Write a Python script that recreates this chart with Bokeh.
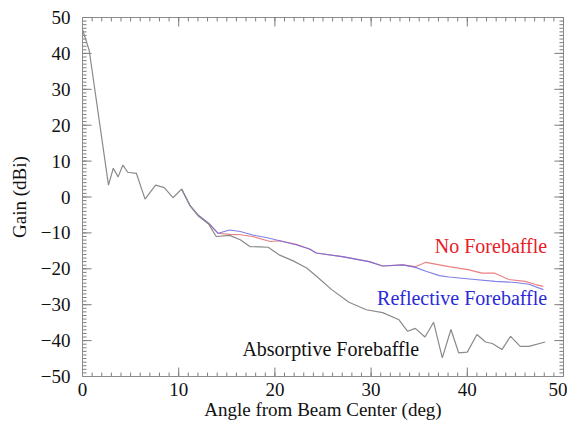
from bokeh.plotting import figure
from bokeh.models import Range1d, SingleIntervalTicker
from bokeh.embed import file_html
from bokeh.resources import INLINE
from bokeh.core.properties import value

# ---- data ----
abs_x = [0, 0.7, 2.7, 3.2, 3.7, 4.2, 4.7, 5.6, 6.5, 7.6, 8.5, 9.4, 10.3, 11.2, 12.0, 13.1, 13.9,
         15.3, 16.4, 17.4, 18.4, 19.3, 20.5, 21.9, 23.3, 24.3, 25.9, 27.7, 29.5, 31.2, 32.9, 33.8,
         34.6, 35.6, 36.5, 37.4, 38.3, 39.1, 40.0, 41.0, 41.9, 42.6, 43.6, 44.5, 45.5, 46.4, 48.1]
abs_y = [46.7, 40.8, 3.3, 8.0, 5.6, 8.9, 6.9, 6.6, -0.6, 3.3, 2.6, -0.2, 2.2, -2.5, -5.2, -7.5, -11.0,
         -10.7, -11.9, -13.8, -13.9, -14.0, -16.2, -17.8, -19.8, -22.0, -25.8, -29.3, -31.4, -32.2, -34.2, -37.4,
         -36.6, -39.0, -34.9, -44.8, -36.9, -43.4, -43.2, -38.3, -40.4, -40.8, -42.5, -38.8, -41.6, -41.6, -40.4]

nofb_x = [10.3, 11.2, 12.0, 13.1, 14.1, 15.3, 16.4, 17.7, 19.5, 20.5, 22.2, 23.6, 24.3, 27.0, 29.8,
          31.2, 33.3, 34.6, 35.7, 37.1, 38.1, 40.2, 41.5, 42.8, 44.3, 46.0, 47.1, 47.9]
nofb_y = [2.2, -2.5, -5.0, -7.3, -10.1, -10.4, -10.5, -11.0, -12.4, -12.2, -13.2, -14.5, -15.6, -16.6, -18.0,
          -19.2, -18.9, -19.4, -18.2, -18.9, -19.4, -20.3, -21.2, -21.2, -23.0, -23.5, -24.4, -24.9]

refl_x = [10.3, 11.2, 12.0, 13.1, 14.1, 15.3, 16.4, 17.7, 19.1, 20.5, 22.2, 23.6, 24.3, 27.0, 29.8,
          31.2, 33.3, 34.6, 35.7, 37.1, 38.1, 40.5, 42.9, 45.0, 46.4, 47.9]
refl_y = [2.2, -2.5, -5.0, -7.3, -10.1, -9.2, -9.6, -10.6, -11.3, -12.2, -13.3, -14.5, -15.6, -16.6, -18.0,
          -19.2, -18.9, -19.6, -20.7, -21.9, -22.3, -22.9, -23.5, -23.8, -24.3, -25.8]

labels = ["No Forebaffle", "Reflective Forebaffle", "Absorptive Forebaffle"]
label_x = [48.3, 48.3, 35.0]
label_y = [-13.6, -28.0, -42.4]
label_colors = ["#e8202a", "#2a2ad8", "#111111"]

# tick values (axis range, major every 10, minor every 1)
x_major = [0, 10, 20, 30, 40, 50]
y_major = [-50, -40, -30, -20, -10, 0, 10, 20, 30, 40, 50]
x_minor = list(range(0, 51))
y_minor = list(range(-50, 51))

FONT = "Liberation Serif"
AX = "#8c8c8c"
TICK = "#7d7d7d"
X0, X1, Y0, Y1 = 0, 50, -50, 50

p = figure(width=567, height=422, output_backend="svg", toolbar_location=None,
           x_range=Range1d(X0, X1), y_range=Range1d(Y0, Y1),
           min_border_left=82, min_border_right=4, min_border_top=17, min_border_bottom=44)
p.grid.visible = False
p.outline_line_color = AX
p.background_fill_color = "white"
p.border_fill_color = "white"

for ax in (p.xaxis[0], p.yaxis[0]):
    ax.axis_line_color = AX
    ax.major_tick_in = 0
    ax.major_tick_out = 0
    ax.minor_tick_line_color = None
    ax.major_tick_line_color = None
    ax.major_label_text_font = FONT
    ax.major_label_text_font_size = "19px"
    ax.major_label_text_color = "#111111"
    ax.axis_label_text_font = FONT
    ax.axis_label_text_font_size = "19px"
    ax.axis_label_text_font_style = "normal"
    ax.axis_label_text_color = "#111111"

p.xaxis.ticker = SingleIntervalTicker(interval=10)
p.yaxis.ticker = SingleIntervalTicker(interval=10)
p.xaxis.axis_label = "Angle from Beam Center (deg)"
p.yaxis.axis_label = "Gain (dBi)"
p.xaxis.major_label_standoff = 2
p.xaxis.axis_label_standoff = 0
p.yaxis.major_label_standoff = 8
p.yaxis.axis_label_standoff = 8

# inward ticks on all four sides, lengths in data units (~9 px major, ~4 px minor)
XMAJ, XMIN = 2.5, 1.1     # vertical tick length (y units) for x-axis ticks
YMAJ, YMIN = 0.95, 0.42   # horizontal tick length (x units) for y-axis ticks

def vticks(vals, L):
    n = len(vals)
    p.segment(x0=vals, y0=[Y0] * n, x1=vals, y1=[Y0 + L] * n, line_color=TICK, line_width=1)
    p.segment(x0=vals, y0=[Y1] * n, x1=vals, y1=[Y1 - L] * n, line_color=TICK, line_width=1)

def hticks(vals, L):
    n = len(vals)
    p.segment(x0=[X0] * n, y0=vals, x1=[X0 + L] * n, y1=vals, line_color=TICK, line_width=1)
    p.segment(x0=[X1] * n, y0=vals, x1=[X1 - L] * n, y1=vals, line_color=TICK, line_width=1)

vticks(x_minor, XMIN)
vticks(x_major, XMAJ)
hticks(y_minor, YMIN)
hticks(y_major, YMAJ)

p.line(nofb_x, nofb_y, line_color="#e86a6a", line_width=1.1, line_alpha=0.85)
p.line(refl_x, refl_y, line_color="#6a6ae0", line_width=1.1, line_alpha=0.85)
p.line(abs_x, abs_y, line_color="#8a8a8a", line_width=1.2)

p.text(x=label_x, y=label_y, text=labels, text_color=label_colors,
       text_font=value(FONT), text_font_size="20px", text_align="right", text_baseline="middle")

open("out.html", "w").write(file_html(p, INLINE))
